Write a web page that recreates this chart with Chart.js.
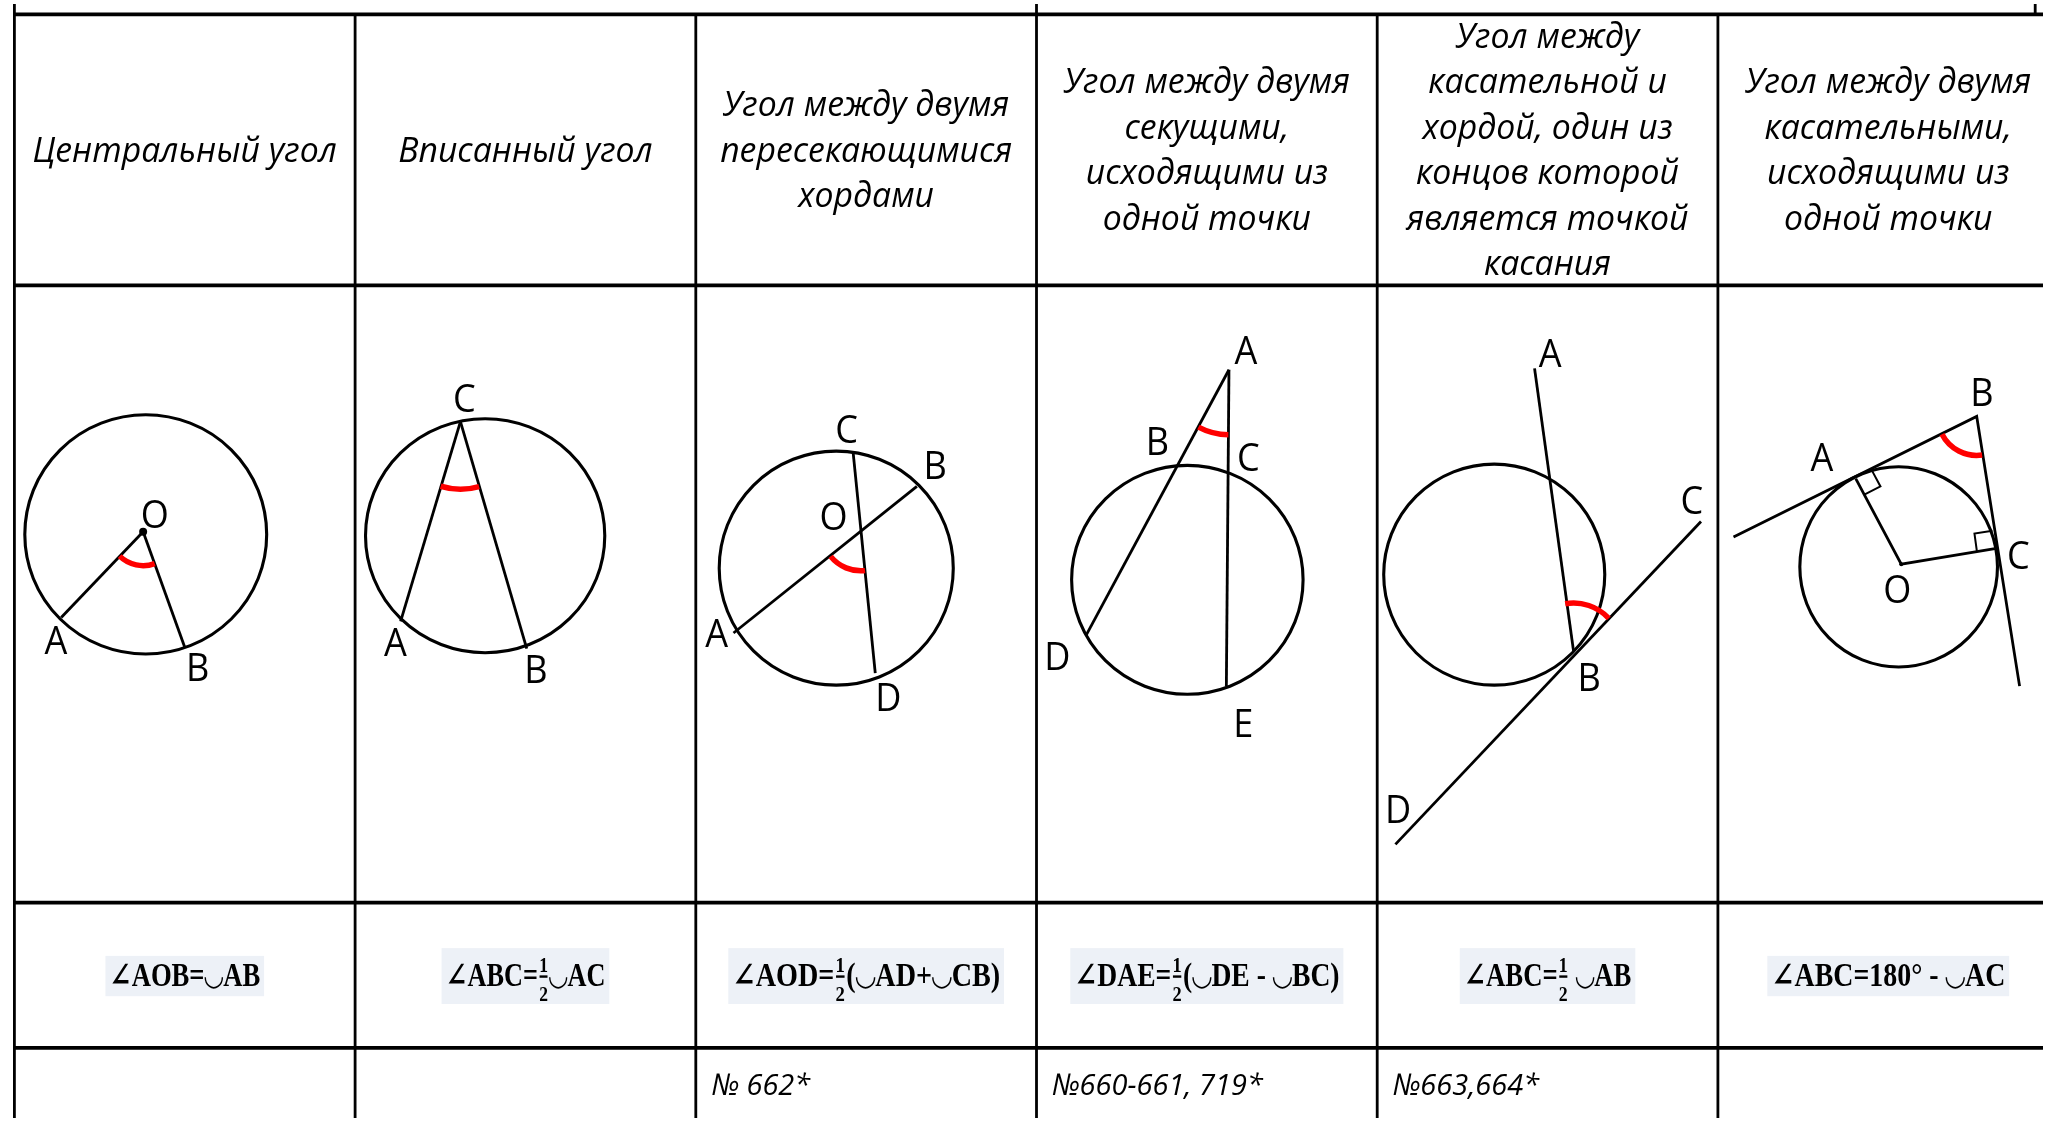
<!DOCTYPE html>
<html>
<head>
<meta charset="utf-8">
<script src="https://cdn.jsdelivr.net/npm/chart.js@4.4.1/dist/chart.umd.min.js"></script>
<style>
  html, body { margin: 0; padding: 0; background: #fff; }
  canvas { display: block; }
</style>
</head>
<body>
<canvas id="sheet" width="2047" height="1122"></canvas>
<script>
// all coordinates measured on a 1568 x 859 copy of the table
const columnLines = [8, 270, 532, 794, 1056, 1318];
const columnTops = [0, 8, 8, 0, 8, 8];
const rowLines = [8, 217, 693, 805];
const columnCenters = [139, 401, 663, 925, 1187, 1449];

const headerLines = [
  ['Центральный угол'],
  ['Вписанный угол'],
  ['Угол между двумя', 'пересекающимися', 'хордами'],
  ['Угол между двумя', 'секущими,', 'исходящими из', 'одной точки'],
  ['Угол между', 'касательной и', 'хордой, один из', 'концов которой', 'является точкой', 'касания'],
  ['Угол между двумя', 'касательными,', 'исходящими из', 'одной точки']
];

const formulaHead = ['∠AOB=◡AB', '∠ABC=', '∠AOD=', '∠DAE=', '∠ABC=', '∠ABC=180° - ◡AC'];
const formulaHalf = [false, true, true, true, true, false];
const formulaTail = ['', '◡AC', '(◡AD+◡CB)', '(◡DE - ◡BC)', ' ◡AB', ''];

const taskNumbers = ['', '', '№ 662*', '№660-661, 719*', '№663,664*', ''];

// circles of the six figures
const circleX = [109, 370, 640, 910, 1146, 1457];
const circleY = [409, 410, 435, 444, 440, 434];
const circleRx = [93, 92, 90, 89, 85, 76];
const circleRy = [92, 90, 90, 88, 85, 77];

// chords, secants, tangents, radii
const figureLines = [
  [[107, 407], [44, 473]], [[107, 407], [139, 496]],
  [[351, 322], [305, 476]], [[351, 322], [402, 497]],
  [[653, 346], [670, 516]], [[561, 485], [702, 372]],
  [[942, 282], [832, 487]], [[942, 282], [940, 526]],
  [[1177, 281], [1207, 499]], [[1070, 648], [1305, 399]],
  [[1330, 411], [1517, 318], [1550, 526]],
  [[1424, 366], [1459, 432], [1531, 420]]
];
// right angle marks
const rightMarks = [
  [[1436.4, 359.6], [1443.0, 372.0], [1430.6, 378.4]],
  [[1529.1, 406.1], [1515.3, 408.4], [1517.2, 422.3]]
];
const centerDots = [[107, 407, 4], [1459, 432, 2]];

// red angle arcs: centre, radius, from/to angle in degrees (y down)
const angleX = [107, 351, 659, 942, 1207, 1517];
const angleY = [407, 322, 407, 282, 499, 318];
const angleR = [26, 52, 30, 50, 37, 30];
const angleFrom = [70, 74, 84, 90.5, -100, 82];
const angleTo = [134, 107, 141, 118, -43, 152.7];

const labelText = ['O', 'A', 'B', 'C', 'A', 'B', 'C', 'B', 'O', 'A', 'D',
  'A', 'B', 'C', 'D', 'E', 'A', 'C', 'B', 'D', 'B', 'A', 'O', 'C'];
const labelX = [116, 40, 149, 354, 301, 409, 648, 716, 638, 548, 680,
  955, 887, 957, 810, 953, 1189, 1298, 1219, 1072, 1521, 1398, 1456, 1549];
const labelY = [394, 491, 512, 305, 493, 514, 329, 356, 396, 486, 535,
  268, 338, 350, 504, 555, 270, 383, 520, 622, 300, 350, 452, 426];

// layout of the formula boxes
const formulaBoxW = [122, 129, 212, 210, 135, 186];

function line(points, width) {
  return {
    data: points.map(p => ({ x: p[0], y: p[1] })),
    showLine: true,
    borderColor: '#000',
    borderWidth: width,
    pointRadius: 0,
    fill: false,
    clip: false
  };
}

const datasets = [];
columnLines.forEach((x, i) => datasets.push(line([[x, columnTops[i]], [x, 859]], 2.8)));
datasets.push(line([[1562, 0], [1562, 8]], 2.8));
rowLines.forEach(y => datasets.push(line([[8, y], [1568, y]], 3.8)));
figureLines.forEach(pts => datasets.push(line(pts, 2.8)));
rightMarks.forEach(pts => datasets.push(line(pts, 2)));
datasets.push({
  data: centerDots.map(d => ({ x: d[0], y: d[1] })),
  pointRadius: centerDots.map(d => d[2]),
  pointBackgroundColor: '#000',
  pointBorderWidth: 0,
  showLine: false,
  clip: false
});

const headFont = 'italic 35px "Open Sans", "Noto Sans", sans-serif';
const numberFont = 'italic 30px "Open Sans", "Noto Sans", sans-serif';
const labelFont = '38px "Open Sans", "Noto Sans", sans-serif';
const mathFont = 'bold 33px "Liberation Serif", "DejaVu Serif", serif';
const arcFont = 'bold 30px "DejaVu Sans", sans-serif';
const halfFont = 'bold 22px "Liberation Serif", "DejaVu Serif", serif';

function formulaRuns(ctx, text) {
  const runs = [];
  text.split(/(◡)/).forEach(part => {
    if (!part) return;
    const font = part === '◡' ? arcFont : mathFont;
    ctx.font = font;
    runs.push({ text: part, font: font, w: ctx.measureText(part).width });
  });
  return runs;
}

const sheetPlugin = {
  id: 'sheet',
  beforeDatasetsDraw(chart) {
    const ctx = chart.ctx;
    const sx = chart.scales.x, sy = chart.scales.y;
    const k = sx.getPixelForValue(1) - sx.getPixelForValue(0);
    ctx.save();
    ctx.fillStyle = '#edf1f7';
    formulaBoxW.forEach((w, i) => {
      const h = formulaHalf[i] ? 43 : 31;
      const top = formulaHalf[i] ? 728 : 734;
      ctx.fillRect(sx.getPixelForValue(columnCenters[i] - w / 2), sy.getPixelForValue(top), w * k, h * k);
    });
    ctx.restore();
  },
  afterDatasetsDraw(chart) {
    const ctx = chart.ctx;
    const sx = chart.scales.x, sy = chart.scales.y;
    const px = v => sx.getPixelForValue(v);
    const py = v => sy.getPixelForValue(v);
    const k = px(1) - px(0);
    ctx.save();

    // circles
    ctx.strokeStyle = '#000';
    ctx.lineWidth = 3.1;
    circleX.forEach((cx, i) => {
      ctx.beginPath();
      ctx.ellipse(px(cx), py(circleY[i]), circleRx[i] * k, circleRy[i] * k, 0, 0, Math.PI * 2);
      ctx.stroke();
    });

    // angle marks
    ctx.strokeStyle = '#ff0000';
    ctx.lineWidth = 5.5;
    angleX.forEach((ax, i) => {
      ctx.beginPath();
      ctx.arc(px(ax), py(angleY[i]), angleR[i] * k, angleFrom[i] * Math.PI / 180, angleTo[i] * Math.PI / 180);
      ctx.stroke();
    });

    // point labels
    ctx.fillStyle = '#000';
    ctx.textAlign = 'center';
    ctx.textBaseline = 'middle';
    ctx.font = labelFont;
    labelText.forEach((t, i) => {
      ctx.save();
      ctx.translate(px(labelX[i]), py(labelY[i]) + 2);
      ctx.scale(0.95, 1);
      ctx.fillText(t, 0, 0);
      ctx.restore();
    });

    // header cells, squeezed like the original narrow font
    ctx.font = headFont;
    const squeeze = 234 * k / ctx.measureText('Центральный угол').width;
    headerLines.forEach((lines, c) => {
      const first = 113 - (lines.length - 1) * 35 / 2;
      lines.forEach((t, j) => {
        ctx.save();
        ctx.translate(px(columnCenters[c]), py(first + j * 35) + 1);
        ctx.scale(squeeze, 1);
        ctx.fillText(t, 0, 0);
        ctx.restore();
      });
    });

    // task numbers
    ctx.textAlign = 'left';
    ctx.font = numberFont;
    taskNumbers.forEach((t, c) => {
      if (!t) return;
      ctx.save();
      ctx.translate(px(columnLines[c] + 12), py(834) + 1);
      ctx.scale(squeeze, 1);
      ctx.fillText(t, 0, 0);
      ctx.restore();
    });

    // formulas
    ctx.textBaseline = 'alphabetic';
    formulaHead.forEach((head, i) => {
      const runs = formulaRuns(ctx, head);
      if (formulaHalf[i]) {
        ctx.font = halfFont;
        runs.push({ half: true, w: ctx.measureText('1').width + 3 });
        formulaRuns(ctx, formulaTail[i]).forEach(r => runs.push(r));
      }
      const total = runs.reduce((s, r) => s + r.w, 0);
      const fit = (formulaBoxW[i] - 6) * k / total;
      ctx.save();
      ctx.translate(px(columnCenters[i]) - total * fit / 2, py(757.5));
      ctx.scale(fit, 1);
      let x = 0;
      runs.forEach(r => {
        if (r.half) {
          ctx.font = halfFont;
          ctx.textAlign = 'center';
          ctx.fillText('1', x + r.w / 2, -14);
          ctx.fillText('2', x + r.w / 2, 15);
          ctx.fillRect(x + r.w / 2 - 5, -11, 10, 2.4);
          ctx.textAlign = 'left';
        } else {
          ctx.font = r.font;
          ctx.fillText(r.text, x, r.font === arcFont ? -1 : 0);
        }
        x += r.w;
      });
      ctx.restore();
    });

    ctx.restore();
  }
};

new Chart(document.getElementById('sheet'), {
  type: 'scatter',
  data: { datasets: datasets },
  options: {
    responsive: false,
    animation: false,
    devicePixelRatio: 1,
    layout: { padding: 0 },
    plugins: { legend: { display: false }, tooltip: { enabled: false } },
    scales: {
      x: { type: 'linear', min: 0, max: 1568, display: false },
      y: { type: 'linear', min: 0, max: 859, reverse: true, display: false }
    }
  },
  plugins: [sheetPlugin]
});
</script>
</body>
</html>
